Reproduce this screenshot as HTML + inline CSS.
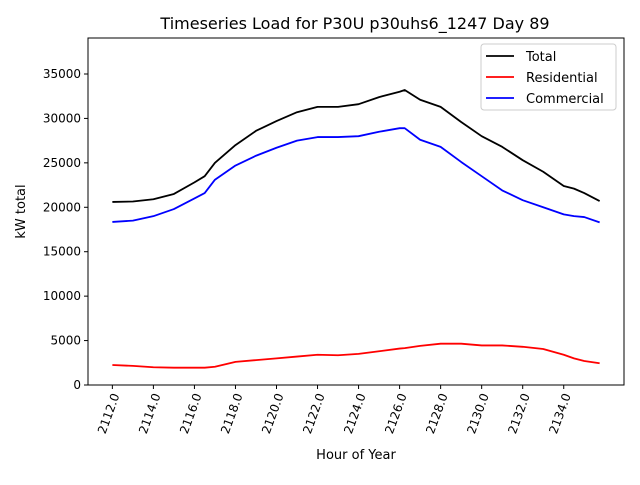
<!DOCTYPE html>
<html><head><meta charset="utf-8"><style>
body{margin:0;background:#fff}
svg{font-family:"DejaVu Sans","Liberation Sans",sans-serif}
</style></head><body>
<svg id="chart" width="640" height="480">
<rect width="640" height="480" fill="#fff"/>
<text x="355" y="29" font-size="16" text-anchor="middle">Timeseries Load for P30U p30uhs6_1247  Day 89</text>
<g id="plot"></g>
</svg>
<script>
const hours=[2112,2113,2114,2115,2116,2116.5,2117,2118,2119,2120,2121,2122,2123,2124,2125,2126,2126.25,2127,2128,2129,2130,2131,2132,2133,2134,2134.5,2135,2135.75];
const total=[20600,20650,20900,21500,22800,23500,25000,27000,28600,29700,30700,31300,31300,31600,32400,33000,33200,32100,31300,29600,28000,26800,25300,24000,22400,22100,21600,20700];
const residential=[2250,2150,2000,1950,1950,1950,2050,2600,2800,3000,3200,3400,3350,3500,3800,4100,4150,4400,4650,4650,4450,4450,4300,4050,3400,3000,2700,2450];
const commercial=[18350,18500,19000,19800,21000,21600,23100,24700,25800,26700,27500,27900,27900,28000,28500,28900,28900,27600,26800,25100,23500,21900,20800,20000,19200,19000,18900,18300];
const xTicks=[2112,2114,2116,2118,2120,2122,2124,2126,2128,2130,2132,2134];
const yTicks=[0,5000,10000,15000,20000,25000,30000,35000];
const L=88,R=624,T=38,B=385;
const xmin=2110.8125,xmax=2136.9375,ymin=0,ymax=39050;
const X=v=>L+(v-xmin)/(xmax-xmin)*(R-L);
const Y=v=>B-(v-ymin)/(ymax-ymin)*(B-T);
const g=document.getElementById('plot');
const NS='http://www.w3.org/2000/svg';
function mk(t,a,p){const e=document.createElementNS(NS,t);for(const k in a)e.setAttribute(k,a[k]);(p||g).appendChild(e);return e;}
xTicks.forEach(v=>{
  const x=X(v);
  const l=mk('line',{x1:x,x2:x,y1:B,y2:B+4,stroke:'#000'});
  
  
  const t=mk('text',{transform:`translate(${x+4},${B+9}) rotate(-70)`,'font-size':12,'text-anchor':'end','dominant-baseline':'middle'});
  t.textContent=v.toFixed(1);
  
  
});
yTicks.forEach(v=>{
  const y=Y(v);
  const l=mk('line',{x1:L-4,x2:L,y1:y,y2:y,stroke:'#000'});
  
  
  const t=mk('text',{x:L-7,y:y+4,'font-size':12,'text-anchor':'end'});
  t.textContent=v;
  
  
});
const series=[[total,'#000','total-line'],[residential,'#f00','residential-line'],[commercial,'#00f','commercial-line']];
series.forEach(([d,c,n])=>{
  const p=mk('polyline',{points:d.map((v,i)=>X(hours[i])+','+Y(v)).join(' '),fill:'none',stroke:c,'stroke-width':1.8,'stroke-linejoin':'round'});
  
  
});
const fr=mk('rect',{x:L,y:T,width:R-L,height:B-T,fill:'none',stroke:'#000','stroke-width':1});


const xl=mk('text',{x:(L+R)/2,y:459,'font-size':13,'text-anchor':'middle'});xl.textContent='Hour of Year';


const yl=mk('text',{transform:`translate(25,${(T+B)/2}) rotate(-90)`,'font-size':13,'text-anchor':'middle'});yl.textContent='kW total';


const lg=mk('g',{});


mk('rect',{x:481,y:44,width:135,height:66,rx:3,fill:'#fff',stroke:'#ccc'},lg);
[['Total','#000'],['Residential','#f00'],['Commercial','#00f']].forEach(([n,c],i)=>{
  const y=56+i*21;
  const e=mk('g',{},lg);
  
  
  mk('line',{x1:486,x2:514,y1:y,y2:y,stroke:c,'stroke-width':1.8},e);
  const t=mk('text',{x:526,y:y+5,'font-size':13},e);t.textContent=n;
});
</script>
</body></html>
